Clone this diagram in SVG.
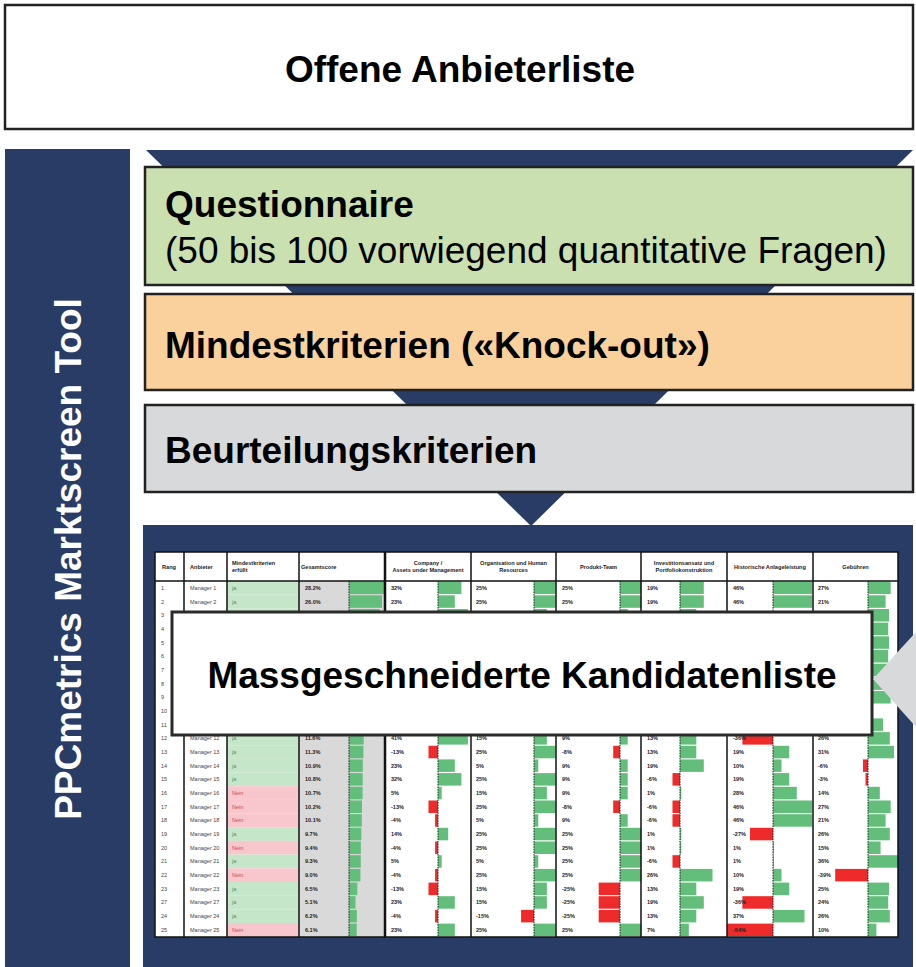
<svg xmlns="http://www.w3.org/2000/svg" width="916" height="967" viewBox="0 0 916 967">
<style>
text{font-family:"Liberation Sans",Arial,Helvetica,sans-serif}
.big{font-size:37px;font-weight:bold;fill:#000}
.reg{font-size:37px;fill:#000}
.hd{font-size:5.6px;font-weight:bold;fill:#222}
.c{text-anchor:middle}
.rk{font-size:5.5px;fill:#444}
.v{font-size:5.5px;font-weight:bold;fill:#222}
.jt{font-size:5.5px;fill:#5b8f5e}
.nt{font-size:5.5px;fill:#c0505c}
.ja{fill:#c6e6c9}
.nein{fill:#f8c6cd}
.g{fill:#63be7b}
.r{fill:#ee2a2a}
.box{stroke:#222;stroke-width:2.5}
.navy{fill:#293c65}
.col{stroke:#111;stroke-width:1.5}
.zero{stroke:#222;stroke-width:1;stroke-dasharray:1.6 1}
</style>

<g id="top-box">
<rect class="box" x="5" y="5" width="908" height="124" fill="#fff"/>
<text class="big c" x="460" y="82">Offene Anbieterliste</text>
</g>

<g id="side-bar">
<rect class="navy" x="5" y="149" width="125" height="818"/>
<text class="big c" fill="#fff" style="fill:#fff" transform="translate(81,559) rotate(-90)">PPCmetrics Marktscreen Tool</text>
</g>

<g id="connectors">
<polygon class="navy" points="146,150 913,150 531,526"/>
</g>

<g id="table-panel">
<rect class="navy" x="143" y="525" width="770" height="442"/>
<rect x="155" y="552" width="743" height="385" fill="#fff"/>
<rect x="299" y="581" width="86" height="356" fill="#d9d9d9"/>
<g id="header">
<text class="hd" x="162" y="568.5">Rang</text>
<text class="hd" x="190" y="568.5">Anbieter</text>
<text class="hd" x="232" y="564.5">Mindestkriterien</text>
<text class="hd" x="232" y="571.5">erfüllt</text>
<text class="hd" x="301" y="568.5">Gesamtscore</text>
<text class="hd c" x="428" y="564.5">Company /</text>
<text class="hd c" x="428" y="571.5">Assets under Management</text>
<text class="hd c" x="513.5" y="564.5">Organisation und Human</text>
<text class="hd c" x="513.5" y="571.5">Resources</text>
<text class="hd c" x="598.5" y="568.5">Produkt-Team</text>
<text class="hd c" x="684" y="564.5">Investitionsansatz und</text>
<text class="hd c" x="684" y="571.5">Portfoliokonstruktion</text>
<text class="hd c" x="770" y="568.5">Historische Anlageleistung</text>
<text class="hd c" x="855.5" y="568.5">Gebühren</text>
</g>

<g id="rows">
<g transform="translate(0,581)">
<rect class="ja" x="227" width="72" height="13.68"/>
<rect class="g" x="349" y=".6" width="35.8" height="12.5"/>
<rect class="g" x="438" y=".6" width="23.4" height="12.5"/>
<rect class="g" x="534" y=".6" width="21.5" height="12.5"/>
<rect class="g" x="620" y=".6" width="21.3" height="12.5"/>
<rect class="g" x="680" y=".6" width="23.8" height="12.5"/>
<rect class="g" x="773" y=".6" width="39.1" height="12.5"/>
<rect class="g" x="868" y=".6" width="22.7" height="12.5"/>
<text class="rk" x="161" y="8.9">1</text><text class="rk" x="190" y="8.9">Manager 1</text><text class="jt" x="232" y="8.9">ja</text>
<text class="v" x="305" y="8.9">28.2%</text><text class="v" x="391" y="8.9">32%</text><text class="v" x="476" y="8.9">25%</text><text class="v" x="562" y="8.9">25%</text><text class="v" x="647" y="8.9">19%</text><text class="v" x="733" y="8.9">46%</text><text class="v" x="818" y="8.9">27%</text>
</g>
<g transform="translate(0,594.7)">
<rect class="ja" x="227" width="72" height="13.68"/>
<rect class="g" x="349" y=".6" width="33" height="12.5"/>
<rect class="g" x="438" y=".6" width="16.8" height="12.5"/>
<rect class="g" x="534" y=".6" width="21.5" height="12.5"/>
<rect class="g" x="620" y=".6" width="21.3" height="12.5"/>
<rect class="g" x="680" y=".6" width="23.8" height="12.5"/>
<rect class="g" x="773" y=".6" width="39.1" height="12.5"/>
<rect class="g" x="868" y=".6" width="17.6" height="12.5"/>
<text class="rk" x="161" y="8.9">2</text><text class="rk" x="190" y="8.9">Manager 2</text><text class="jt" x="232" y="8.9">ja</text>
<text class="v" x="305" y="8.9">26.0%</text><text class="v" x="391" y="8.9">23%</text><text class="v" x="476" y="8.9">25%</text><text class="v" x="562" y="8.9">25%</text><text class="v" x="647" y="8.9">19%</text><text class="v" x="733" y="8.9">46%</text><text class="v" x="818" y="8.9">21%</text>
</g>
<g transform="translate(0,608.4)">
<rect class="ja" x="227" width="72" height="13.68"/>
<rect class="g" x="349" y=".6" width="30.6" height="12.5"/>
<rect class="g" x="438" y=".6" width="29.9" height="12.5"/>
<rect class="g" x="534" y=".6" width="12.9" height="12.5"/>
<rect class="g" x="620" y=".6" width="7.7" height="12.5"/>
<rect class="g" x="680" y=".6" width="16.3" height="12.5"/>
<rect class="g" x="868" y=".6" width="21" height="12.5"/>
<text class="rk" x="161" y="8.9">3</text>
</g>
<g transform="translate(0,622)"><rect class="g" x="868" y=".6" width="20.2" height="12.5"/><text class="rk" x="161" y="8.9">4</text></g>
<g transform="translate(0,635.7)"><rect class="g" x="868" y=".6" width="21" height="12.5"/><text class="rk" x="161" y="8.9">5</text></g>
<g transform="translate(0,649.4)"><rect class="g" x="868" y=".6" width="20.2" height="12.5"/><text class="rk" x="161" y="8.9">6</text></g>
<g transform="translate(0,663.1)"><rect class="g" x="868" y=".6" width="21" height="12.5"/><text class="rk" x="161" y="8.9">7</text></g>
<g transform="translate(0,676.8)"><rect class="g" x="868" y=".6" width="18.5" height="12.5"/><text class="rk" x="161" y="8.9">8</text></g>
<g transform="translate(0,690.4)"><rect class="g" x="868" y=".6" width="22.7" height="12.5"/><text class="rk" x="161" y="8.9">9</text></g>
<g transform="translate(0,704.1)"><text class="rk" x="161" y="8.9">10</text></g>
<g transform="translate(0,717.8)"><rect class="g" x="868" y=".6" width="15.1" height="12.5"/><text class="rk" x="161" y="8.9">11</text></g>
<g transform="translate(0,731.5)">
<rect class="ja" x="227" width="72" height="13.68"/>
<rect class="g" x="349" y=".6" width="14.7" height="12.5"/>
<rect class="g" x="438" y=".6" width="29.9" height="12.5"/>
<rect class="g" x="534" y=".6" width="12.9" height="12.5"/>
<rect class="g" x="620" y=".6" width="7.7" height="12.5"/>
<rect class="g" x="680" y=".6" width="16.3" height="12.5"/>
<rect class="r" x="742.4" y=".6" width="30.6" height="12.5"/>
<rect class="g" x="868" y=".6" width="21.8" height="12.5"/>
<text class="rk" x="161" y="8.9">12</text><text class="rk" x="190" y="8.9">Manager 12</text><text class="jt" x="232" y="8.9">ja</text>
<text class="v" x="305" y="8.9">11.6%</text><text class="v" x="391" y="8.9">41%</text><text class="v" x="476" y="8.9">15%</text><text class="v" x="562" y="8.9">9%</text><text class="v" x="647" y="8.9">13%</text><text class="v" x="733" y="8.9">-36%</text><text class="v" x="818" y="8.9">26%</text>
</g>
<g transform="translate(0,745.2)">
<rect class="ja" x="227" width="72" height="13.68"/>
<rect class="g" x="349" y=".6" width="14.4" height="12.5"/>
<rect class="r" x="428.5" y=".6" width="9.5" height="12.5"/>
<rect class="g" x="534" y=".6" width="21.5" height="12.5"/>
<rect class="r" x="613.2" y=".6" width="6.8" height="12.5"/>
<rect class="g" x="680" y=".6" width="16.3" height="12.5"/>
<rect class="g" x="773" y=".6" width="16.2" height="12.5"/>
<rect class="g" x="868" y=".6" width="26" height="12.5"/>
<text class="rk" x="161" y="8.9">13</text><text class="rk" x="190" y="8.9">Manager 13</text><text class="jt" x="232" y="8.9">ja</text>
<text class="v" x="305" y="8.9">11.3%</text><text class="v" x="391" y="8.9">-13%</text><text class="v" x="476" y="8.9">25%</text><text class="v" x="562" y="8.9">-8%</text><text class="v" x="647" y="8.9">13%</text><text class="v" x="733" y="8.9">19%</text><text class="v" x="818" y="8.9">31%</text>
</g>
<g transform="translate(0,758.8)">
<rect class="ja" x="227" width="72" height="13.68"/>
<rect class="g" x="349" y=".6" width="13.8" height="12.5"/>
<rect class="g" x="438" y=".6" width="16.8" height="12.5"/>
<rect class="g" x="534" y=".6" width="4.3" height="12.5"/>
<rect class="g" x="620" y=".6" width="7.7" height="12.5"/>
<rect class="g" x="680" y=".6" width="23.8" height="12.5"/>
<rect class="g" x="773" y=".6" width="8.5" height="12.5"/>
<rect class="r" x="863" y=".6" width="5" height="12.5"/>
<text class="rk" x="161" y="8.9">14</text><text class="rk" x="190" y="8.9">Manager 14</text><text class="jt" x="232" y="8.9">ja</text>
<text class="v" x="305" y="8.9">10.9%</text><text class="v" x="391" y="8.9">23%</text><text class="v" x="476" y="8.9">5%</text><text class="v" x="562" y="8.9">9%</text><text class="v" x="647" y="8.9">19%</text><text class="v" x="733" y="8.9">10%</text><text class="v" x="818" y="8.9">-6%</text>
</g>
<g transform="translate(0,772.5)">
<rect class="ja" x="227" width="72" height="13.68"/>
<rect class="g" x="349" y=".6" width="13.7" height="12.5"/>
<rect class="g" x="438" y=".6" width="23.4" height="12.5"/>
<rect class="g" x="534" y=".6" width="21.5" height="12.5"/>
<rect class="g" x="620" y=".6" width="7.7" height="12.5"/>
<rect class="r" x="672.5" y=".6" width="7.5" height="12.5"/>
<rect class="g" x="773" y=".6" width="16.2" height="12.5"/>
<rect class="r" x="865.5" y=".6" width="2.5" height="12.5"/>
<text class="rk" x="161" y="8.9">15</text><text class="rk" x="190" y="8.9">Manager 15</text><text class="jt" x="232" y="8.9">ja</text>
<text class="v" x="305" y="8.9">10.8%</text><text class="v" x="391" y="8.9">32%</text><text class="v" x="476" y="8.9">25%</text><text class="v" x="562" y="8.9">9%</text><text class="v" x="647" y="8.9">-6%</text><text class="v" x="733" y="8.9">19%</text><text class="v" x="818" y="8.9">-3%</text>
</g>
<g transform="translate(0,786.2)">
<rect class="nein" x="227" width="72" height="13.68"/>
<rect class="g" x="349" y=".6" width="13.6" height="12.5"/>
<rect class="g" x="438" y=".6" width="3.7" height="12.5"/>
<rect class="g" x="534" y=".6" width="12.9" height="12.5"/>
<rect class="g" x="620" y=".6" width="7.7" height="12.5"/>
<rect class="g" x="680" y=".6" width="1.3" height="12.5"/>
<rect class="g" x="773" y=".6" width="23.8" height="12.5"/>
<rect class="g" x="868" y=".6" width="11.8" height="12.5"/>
<text class="rk" x="161" y="8.9">16</text><text class="rk" x="190" y="8.9">Manager 16</text><text class="nt" x="232" y="8.9">Nein</text>
<text class="v" x="305" y="8.9">10.7%</text><text class="v" x="391" y="8.9">5%</text><text class="v" x="476" y="8.9">15%</text><text class="v" x="562" y="8.9">9%</text><text class="v" x="647" y="8.9">1%</text><text class="v" x="733" y="8.9">28%</text><text class="v" x="818" y="8.9">14%</text>
</g>
<g transform="translate(0,799.9)">
<rect class="nein" x="227" width="72" height="13.68"/>
<rect class="g" x="349" y=".6" width="13" height="12.5"/>
<rect class="r" x="428.5" y=".6" width="9.5" height="12.5"/>
<rect class="g" x="534" y=".6" width="21.5" height="12.5"/>
<rect class="r" x="613.2" y=".6" width="6.8" height="12.5"/>
<rect class="r" x="672.5" y=".6" width="7.5" height="12.5"/>
<rect class="g" x="773" y=".6" width="39.1" height="12.5"/>
<rect class="g" x="868" y=".6" width="22.7" height="12.5"/>
<text class="rk" x="161" y="8.9">17</text><text class="rk" x="190" y="8.9">Manager 17</text><text class="nt" x="232" y="8.9">Nein</text>
<text class="v" x="305" y="8.9">10.2%</text><text class="v" x="391" y="8.9">-13%</text><text class="v" x="476" y="8.9">25%</text><text class="v" x="562" y="8.9">-8%</text><text class="v" x="647" y="8.9">-6%</text><text class="v" x="733" y="8.9">46%</text><text class="v" x="818" y="8.9">27%</text>
</g>
<g transform="translate(0,813.6)">
<rect class="nein" x="227" width="72" height="13.68"/>
<rect class="g" x="349" y=".6" width="12.8" height="12.5"/>
<rect class="r" x="435.1" y=".6" width="2.9" height="12.5"/>
<rect class="g" x="534" y=".6" width="4.3" height="12.5"/>
<rect class="g" x="620" y=".6" width="7.7" height="12.5"/>
<rect class="r" x="672.5" y=".6" width="7.5" height="12.5"/>
<rect class="g" x="773" y=".6" width="39.1" height="12.5"/>
<rect class="g" x="868" y=".6" width="17.6" height="12.5"/>
<text class="rk" x="161" y="8.9">18</text><text class="rk" x="190" y="8.9">Manager 18</text><text class="nt" x="232" y="8.9">Nein</text>
<text class="v" x="305" y="8.9">10.1%</text><text class="v" x="391" y="8.9">-4%</text><text class="v" x="476" y="8.9">5%</text><text class="v" x="562" y="8.9">9%</text><text class="v" x="647" y="8.9">-6%</text><text class="v" x="733" y="8.9">46%</text><text class="v" x="818" y="8.9">21%</text>
</g>
<g transform="translate(0,827.2)">
<rect class="ja" x="227" width="72" height="13.68"/>
<rect class="g" x="349" y=".6" width="12.3" height="12.5"/>
<rect class="g" x="438" y=".6" width="10.2" height="12.5"/>
<rect class="g" x="534" y=".6" width="21.5" height="12.5"/>
<rect class="g" x="620" y=".6" width="21.3" height="12.5"/>
<rect class="g" x="680" y=".6" width="1.3" height="12.5"/>
<rect class="r" x="750" y=".6" width="23" height="12.5"/>
<rect class="g" x="868" y=".6" width="21.8" height="12.5"/>
<text class="rk" x="161" y="8.9">19</text><text class="rk" x="190" y="8.9">Manager 19</text><text class="jt" x="232" y="8.9">ja</text>
<text class="v" x="305" y="8.9">9.7%</text><text class="v" x="391" y="8.9">14%</text><text class="v" x="476" y="8.9">25%</text><text class="v" x="562" y="8.9">25%</text><text class="v" x="647" y="8.9">1%</text><text class="v" x="733" y="8.9">-27%</text><text class="v" x="818" y="8.9">26%</text>
</g>
<g transform="translate(0,840.9)">
<rect class="nein" x="227" width="72" height="13.68"/>
<rect class="g" x="349" y=".6" width="11.9" height="12.5"/>
<rect class="r" x="435.1" y=".6" width="2.9" height="12.5"/>
<rect class="g" x="534" y=".6" width="21.5" height="12.5"/>
<rect class="g" x="620" y=".6" width="21.3" height="12.5"/>
<rect class="g" x="680" y=".6" width="1.3" height="12.5"/>
<rect class="g" x="773" y=".6" width="0.9" height="12.5"/>
<rect class="g" x="868" y=".6" width="12.6" height="12.5"/>
<text class="rk" x="161" y="8.9">20</text><text class="rk" x="190" y="8.9">Manager 20</text><text class="nt" x="232" y="8.9">Nein</text>
<text class="v" x="305" y="8.9">9.4%</text><text class="v" x="391" y="8.9">-4%</text><text class="v" x="476" y="8.9">25%</text><text class="v" x="562" y="8.9">25%</text><text class="v" x="647" y="8.9">1%</text><text class="v" x="733" y="8.9">1%</text><text class="v" x="818" y="8.9">15%</text>
</g>
<g transform="translate(0,854.6)">
<rect class="ja" x="227" width="72" height="13.68"/>
<rect class="g" x="349" y=".6" width="11.8" height="12.5"/>
<rect class="g" x="438" y=".6" width="3.7" height="12.5"/>
<rect class="g" x="534" y=".6" width="4.3" height="12.5"/>
<rect class="g" x="620" y=".6" width="21.3" height="12.5"/>
<rect class="r" x="672.5" y=".6" width="7.5" height="12.5"/>
<rect class="g" x="773" y=".6" width="0.9" height="12.5"/>
<rect class="g" x="868" y=".6" width="30" height="12.5"/>
<text class="rk" x="161" y="8.9">21</text><text class="rk" x="190" y="8.9">Manager 21</text><text class="jt" x="232" y="8.9">ja</text>
<text class="v" x="305" y="8.9">9.3%</text><text class="v" x="391" y="8.9">5%</text><text class="v" x="476" y="8.9">5%</text><text class="v" x="562" y="8.9">25%</text><text class="v" x="647" y="8.9">-6%</text><text class="v" x="733" y="8.9">1%</text><text class="v" x="818" y="8.9">36%</text>
</g>
<g transform="translate(0,868.3)">
<rect class="nein" x="227" width="72" height="13.68"/>
<rect class="g" x="349" y=".6" width="11.4" height="12.5"/>
<rect class="r" x="435.1" y=".6" width="2.9" height="12.5"/>
<rect class="g" x="534" y=".6" width="21.5" height="12.5"/>
<rect class="g" x="620" y=".6" width="21.3" height="12.5"/>
<rect class="g" x="680" y=".6" width="32.5" height="12.5"/>
<rect class="g" x="773" y=".6" width="8.5" height="12.5"/>
<rect class="r" x="835.2" y=".6" width="32.8" height="12.5"/>
<text class="rk" x="161" y="8.9">22</text><text class="rk" x="190" y="8.9">Manager 22</text><text class="nt" x="232" y="8.9">Nein</text>
<text class="v" x="305" y="8.9">9.0%</text><text class="v" x="391" y="8.9">-4%</text><text class="v" x="476" y="8.9">25%</text><text class="v" x="562" y="8.9">25%</text><text class="v" x="647" y="8.9">26%</text><text class="v" x="733" y="8.9">10%</text><text class="v" x="818" y="8.9">-39%</text>
</g>
<g transform="translate(0,882)">
<rect class="ja" x="227" width="72" height="13.68"/>
<rect class="g" x="349" y=".6" width="8.3" height="12.5"/>
<rect class="r" x="428.5" y=".6" width="9.5" height="12.5"/>
<rect class="g" x="534" y=".6" width="12.9" height="12.5"/>
<rect class="r" x="598.7" y=".6" width="21.3" height="12.5"/>
<rect class="g" x="680" y=".6" width="16.3" height="12.5"/>
<rect class="g" x="773" y=".6" width="16.2" height="12.5"/>
<rect class="g" x="868" y=".6" width="21" height="12.5"/>
<text class="rk" x="161" y="8.9">23</text><text class="rk" x="190" y="8.9">Manager 23</text><text class="jt" x="232" y="8.9">ja</text>
<text class="v" x="305" y="8.9">6.5%</text><text class="v" x="391" y="8.9">-13%</text><text class="v" x="476" y="8.9">15%</text><text class="v" x="562" y="8.9">-25%</text><text class="v" x="647" y="8.9">13%</text><text class="v" x="733" y="8.9">19%</text><text class="v" x="818" y="8.9">25%</text>
</g>
<g transform="translate(0,895.6)">
<rect class="ja" x="227" width="72" height="13.68"/>
<rect class="g" x="349" y=".6" width="6.5" height="12.5"/>
<rect class="g" x="438" y=".6" width="16.8" height="12.5"/>
<rect class="g" x="534" y=".6" width="12.9" height="12.5"/>
<rect class="r" x="598.7" y=".6" width="21.3" height="12.5"/>
<rect class="g" x="680" y=".6" width="23.8" height="12.5"/>
<rect class="r" x="742.4" y=".6" width="30.6" height="12.5"/>
<rect class="g" x="868" y=".6" width="20.2" height="12.5"/>
<text class="rk" x="161" y="8.9">27</text><text class="rk" x="190" y="8.9">Manager 27</text><text class="jt" x="232" y="8.9">ja</text>
<text class="v" x="305" y="8.9">5.1%</text><text class="v" x="391" y="8.9">23%</text><text class="v" x="476" y="8.9">15%</text><text class="v" x="562" y="8.9">-25%</text><text class="v" x="647" y="8.9">19%</text><text class="v" x="733" y="8.9">-36%</text><text class="v" x="818" y="8.9">24%</text>
</g>
<g transform="translate(0,909.3)">
<rect class="ja" x="227" width="72" height="13.68"/>
<rect class="g" x="349" y=".6" width="7.9" height="12.5"/>
<rect class="r" x="435.1" y=".6" width="2.9" height="12.5"/>
<rect class="r" x="521.1" y=".6" width="12.9" height="12.5"/>
<rect class="r" x="598.7" y=".6" width="21.3" height="12.5"/>
<rect class="g" x="680" y=".6" width="16.3" height="12.5"/>
<rect class="g" x="773" y=".6" width="31.5" height="12.5"/>
<rect class="g" x="868" y=".6" width="21.8" height="12.5"/>
<text class="rk" x="161" y="8.9">24</text><text class="rk" x="190" y="8.9">Manager 24</text><text class="jt" x="232" y="8.9">ja</text>
<text class="v" x="305" y="8.9">6.2%</text><text class="v" x="391" y="8.9">-4%</text><text class="v" x="476" y="8.9">-15%</text><text class="v" x="562" y="8.9">-25%</text><text class="v" x="647" y="8.9">13%</text><text class="v" x="733" y="8.9">37%</text><text class="v" x="818" y="8.9">26%</text>
</g>
<g transform="translate(0,923)">
<rect class="nein" x="227" width="72" height="13.68"/>
<rect class="g" x="349" y=".6" width="7.7" height="12.5"/>
<rect class="g" x="438" y=".6" width="16.8" height="12.5"/>
<rect class="g" x="534" y=".6" width="21.5" height="12.5"/>
<rect class="g" x="620" y=".6" width="21.3" height="12.5"/>
<rect class="g" x="680" y=".6" width="8.8" height="12.5"/>
<rect class="r" x="727.1" y=".6" width="45.9" height="12.5"/>
<rect class="g" x="868" y=".6" width="8.4" height="12.5"/>
<text class="rk" x="161" y="8.9">25</text><text class="rk" x="190" y="8.9">Manager 25</text><text class="nt" x="232" y="8.9">Nein</text>
<text class="v" x="305" y="8.9">6.1%</text><text class="v" x="391" y="8.9">23%</text><text class="v" x="476" y="8.9">25%</text><text class="v" x="562" y="8.9">25%</text><text class="v" x="647" y="8.9">7%</text><text class="v" x="733" y="8.9">-54%</text><text class="v" x="818" y="8.9">10%</text>
</g>
</g>

<g id="grid">
<line class="zero" x1="349" y1="581" x2="349" y2="937"/>
<line class="zero" x1="438" y1="581" x2="438" y2="937"/>
<line class="zero" x1="534" y1="581" x2="534" y2="937"/>
<line class="zero" x1="620" y1="581" x2="620" y2="937"/>
<line class="zero" x1="680" y1="581" x2="680" y2="937"/>
<line class="zero" x1="773" y1="581" x2="773" y2="937"/>
<line class="zero" x1="868" y1="581" x2="868" y2="937"/>
<line class="col" x1="184" y1="552" x2="184" y2="937"/>
<line class="col" x1="227" y1="552" x2="227" y2="937"/>
<line class="col" x1="299" y1="552" x2="299" y2="937"/>
<line class="col" x1="385" y1="552" x2="385" y2="937" style="stroke-width:2.5"/>
<line class="col" x1="471" y1="552" x2="471" y2="937"/>
<line class="col" x1="556" y1="552" x2="556" y2="937"/>
<line class="col" x1="641" y1="552" x2="641" y2="937"/>
<line class="col" x1="727" y1="552" x2="727" y2="937"/>
<line class="col" x1="813" y1="552" x2="813" y2="937"/>
<line class="col" x1="155" y1="581" x2="898" y2="581"/>
<rect x="155" y="552" width="743" height="385" fill="none" stroke="#111" stroke-width="1.5"/>
</g>
</g>

<g id="questionnaire">
<rect class="box" x="145" y="167" width="768" height="118" fill="#cae0b0"/>
<text class="big" x="165" y="217">Questionnaire</text>
<text class="reg" x="165" y="263">(50 bis 100 vorwiegend quantitative Fragen)</text>
</g>

<g id="mindestkriterien">
<rect class="box" x="145" y="294" width="768" height="96" fill="#fad19d"/>
<text class="big" x="165" y="358">Mindestkriterien («Knock-out»)</text>
</g>

<g id="beurteilungskriterien">
<rect class="box" x="145" y="405" width="768" height="87" fill="#d8d9db"/>
<text class="big" x="165" y="463">Beurteilungskriterien</text>
</g>

<g id="kandidatenliste">
<rect x="172" y="612" width="700" height="123" fill="#fff" stroke="#2a2a2a" stroke-width="3"/>
<text class="big c" x="522" y="688">Massgeschneiderte Kandidatenliste</text>
</g>

<g id="arrow">
<polygon points="873,679 916,632 916,727" fill="#d8d9db"/>
</g>
</svg>
